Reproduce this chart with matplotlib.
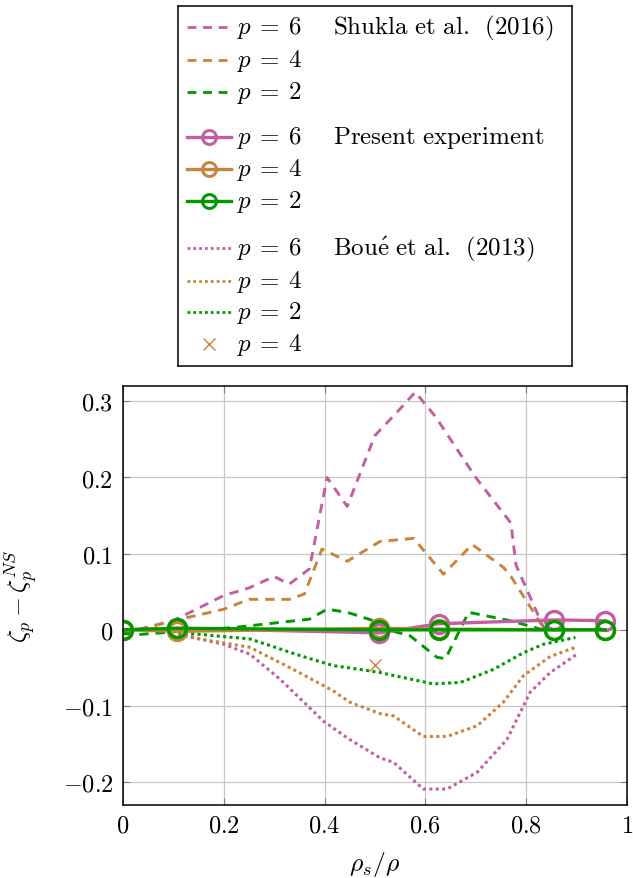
import matplotlib
matplotlib.use('Agg')
import matplotlib.pyplot as plt
from matplotlib.lines import Line2D

plt.rcParams['mathtext.fontset'] = 'cm'
plt.rcParams['font.family'] = 'serif'
plt.rcParams['font.serif'] = ['cmr10', 'DejaVu Serif']
plt.rcParams['axes.formatter.use_mathtext'] = True

pink = '#c25fa2'
orange = '#c8843e'
green = '#009a00'

# Shukla et al. (2016)
sh6_x = [0, 0.1, 0.2, 0.25, 0.3, 0.33, 0.37, 0.405, 0.445, 0.5, 0.55, 0.58, 0.62, 0.7, 0.77, 0.78, 0.84]
sh6_y = [-0.005, 0.012, 0.045, 0.055, 0.07, 0.06, 0.08, 0.2, 0.162, 0.255, 0.29, 0.312, 0.28, 0.2, 0.14, 0.085, -0.005]
sh4_x = [0, 0.1, 0.2, 0.25, 0.33, 0.36, 0.395, 0.445, 0.51, 0.577, 0.636, 0.693, 0.755, 0.77, 0.834]
sh4_y = [-0.005, 0.012, 0.027, 0.04, 0.04, 0.047, 0.106, 0.09, 0.116, 0.12, 0.073, 0.112, 0.082, 0.07, 0.003]
sh2_x = [0, 0.034, 0.22, 0.37, 0.405, 0.445, 0.497, 0.537, 0.57, 0.623, 0.64, 0.686, 0.768, 0.834]
sh2_y = [-0.005, -0.006, 0.003, 0.014, 0.027, 0.023, 0.012, -0.002, -0.008, -0.036, -0.038, 0.023, 0.012, 0.0]

# Present experiment
pe_x = [0, 0.108, 0.509, 0.627, 0.856, 0.957]
pe6_y = [0, 0.002, -0.004, 0.008, 0.013, 0.012]
pe4_y = [0, -0.002, 0.002, 0.001, 0.0, 0.0]
pe2_y = [0, 0.002, 0.0, 0.0, 0.0, 0.0]

# Boue et al. (2013)
bo6_x = [0.11, 0.2, 0.252, 0.312, 0.398, 0.45, 0.51, 0.537, 0.596, 0.643, 0.703, 0.762, 0.808, 0.848, 0.901]
bo6_y = [-0.006, -0.019, -0.032, -0.065, -0.12, -0.144, -0.168, -0.174, -0.209, -0.209, -0.187, -0.144, -0.082, -0.056, -0.032]
bo4_x = [0.11, 0.153, 0.252, 0.338, 0.417, 0.45, 0.51, 0.537, 0.596, 0.643, 0.703, 0.755, 0.795, 0.848, 0.898]
bo4_y = [-0.004, -0.012, -0.023, -0.052, -0.08, -0.095, -0.11, -0.113, -0.14, -0.14, -0.126, -0.095, -0.06, -0.035, -0.023]
bo2_x = [0.11, 0.153, 0.252, 0.352, 0.417, 0.45, 0.51, 0.537, 0.616, 0.67, 0.735, 0.795, 0.834, 0.898]
bo2_y = [-0.003, -0.006, -0.012, -0.034, -0.047, -0.05, -0.056, -0.06, -0.071, -0.069, -0.052, -0.03, -0.019, -0.01]
bo_pt_x = [0.5]
bo_pt_y = [-0.046]

xticks = [0, 0.2, 0.4, 0.6, 0.8, 1]
xticklabels = ['$0$', '$0.2$', '$0.4$', '$0.6$', '$0.8$', '$1$']
yticks = [-0.2, -0.1, 0, 0.1, 0.2, 0.3]
yticklabels = ['$-0.2$', '$-0.1$', '$0$', '$0.1$', '$0.2$', '$0.3$']

dash = (0, (3.2, 2.4))
dot = (0, (1, 1.1))
fs = 17.5

fig = plt.figure(figsize=(6.33, 8.79), dpi=100)
ax = fig.add_axes([0.1943, 0.083, 0.796, 0.4767])

ax.plot(sh6_x, sh6_y, color=pink, ls=dash, lw=2.1)
ax.plot(sh4_x, sh4_y, color=orange, ls=dash, lw=2.1)
ax.plot(sh2_x, sh2_y, color=green, ls=dash, lw=2.1)
ax.plot(bo6_x, bo6_y, color=pink, ls=dot, lw=2.2)
ax.plot(bo4_x, bo4_y, color=orange, ls=dot, lw=2.2)
ax.plot(bo2_x, bo2_y, color=green, ls=dot, lw=2.2)
ax.plot(bo_pt_x, bo_pt_y, ls='none', marker='x', color=orange, ms=9, mew=1)
ax.plot(pe_x, pe6_y, color=pink, lw=2.4, marker='o', mfc='none', ms=13, mew=2.4)
ax.plot(pe_x, pe4_y, color=orange, lw=2.4, marker='o', mfc='none', ms=13, mew=2.4)
ax.plot(pe_x, pe2_y, color=green, lw=2.4, marker='o', mfc='none', ms=13, mew=2.4)

ax.set_xlim(0, 1)
ax.set_ylim(-0.23, 0.32)
ax.set_xticks(xticks)
ax.set_xticklabels(xticklabels, fontsize=fs)
ax.set_yticks(yticks)
ax.set_yticklabels(yticklabels, fontsize=fs)
ax.tick_params(direction='in', length=5, color='#808080', top=True, right=True, pad=7)
ax.grid(True, color='#c8c8c8', lw=0.9)
ax.set_axisbelow(True)
for s in ax.spines.values():
    s.set_linewidth(1.1)
ax.set_xlabel(r'$\rho_s/\rho$', fontsize=fs + 1, labelpad=9)
ax.set_ylabel(r'$\zeta_p-\zeta_p^{NS}$', fontsize=fs + 1, labelpad=16)

# legend drawn by hand (layout in pixel units of the legend box)
lg = fig.add_axes([178 / 633, 1 - 367 / 879, 394 / 633, 360 / 879])
lg.set_xlim(0, 394)
lg.set_ylim(360, 0)
lg.set_xticks([])
lg.set_yticks([])
for s in lg.spines.values():
    s.set_linewidth(1.1)

rows = [21, 54, 86, 131, 163, 195, 242, 275, 306, 338]
entries = [
    (pink, dash, None, '6'), (orange, dash, None, '4'), (green, dash, None, '2'),
    (pink, '-', 'o', '6'), (orange, '-', 'o', '4'), (green, '-', 'o', '2'),
    (pink, dot, None, '6'), (orange, dot, None, '4'), (green, dot, None, '2'),
    (orange, 'none', 'x', '4'),
]
for yy, (c, ls, mk, p) in zip(rows, entries):
    if mk == 'o':
        lg.add_line(Line2D([9, 53], [yy, yy], color=c, ls=ls, lw=2.4))
        lg.add_line(Line2D([31], [yy], color=c, marker='o', mfc='none', ms=10, mew=2.2))
    elif mk == 'x':
        lg.add_line(Line2D([31], [yy], color=c, marker='x', ms=9, mew=1))
    else:
        lg.add_line(Line2D([9, 53], [yy, yy], color=c, ls=ls, lw=2))
    lg.text(59, yy, r'$p\:=\:%s$' % p, fontsize=fs + 0.5, va='center', ha='left')

lt = dict(fontsize=fs + 0.5, va='center', ha='left')
lg.text(155, rows[0], r'$\mathrm{Shukla\ et\ al.\ \,(2016)}$', **lt)
lg.text(155, rows[3], r'$\mathrm{Present\ experiment}$', **lt)
lg.text(155, rows[6], r'$\mathrm{Bou\acute{e}\ et\ al.\ \,(2013)}$', **lt)

fig.savefig('out.png', dpi=100)
